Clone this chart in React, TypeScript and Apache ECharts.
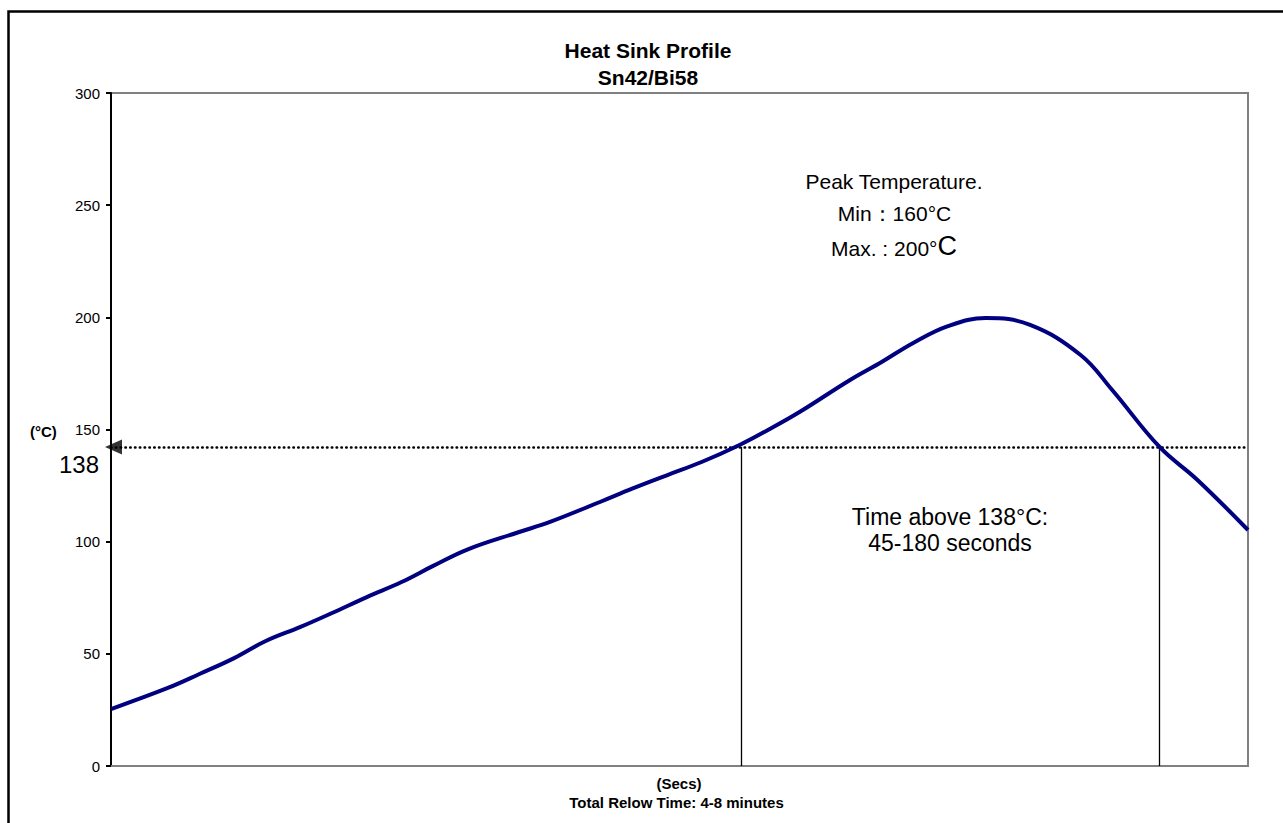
import React, { useEffect, useRef } from "react";
import * as echarts from "echarts";

// Time (s) and temperature (°C)
const timeSecs = [0, 18, 28, 39, 49, 60, 70, 81, 92, 102, 113, 129, 139, 155, 165, 176, 187, 199, 208, 218, 234, 244, 254, 265, 277, 291, 307, 317, 332, 344, 360];
const tempC = [25.4, 34.8, 41.0, 48.1, 55.7, 62.0, 68.2, 75.3, 82.0, 89.2, 96.6, 104.2, 108.8, 117.8, 123.6, 129.6, 135.5, 143.1, 149.8, 157.8, 172.1, 180.1, 188.6, 196.1, 199.7, 196.6, 183.2, 167.6, 142.2, 127.5, 105.2];

const yTicks = [0, 50, 100, 150, 200, 250, 300];
const liquidusLevel = 142.2; // where the dotted 138°C line is drawn
const crossTimes = [199.5, 332];
const timeMax = 360;

const FONT = "'Liberation Sans', Arial, sans-serif";

export default function App() {
  const ref = useRef<HTMLDivElement>(null);
  useEffect(() => {
    document.body.style.margin = "0";
    const chart = echarts.init(ref.current!, null, { renderer: "svg" });
    const option: any = {
      animation: false,
      backgroundColor: "#ffffff",
      textStyle: { fontFamily: FONT },
      grid: {
        left: 111,
        top: 93,
        right: 35,
        bottom: 57,
        show: true,
        borderColor: "#808080",
        borderWidth: 2,
        backgroundColor: "transparent",
      },
      xAxis: {
        type: "value",
        min: 0,
        max: timeMax,
        axisLine: { show: true, lineStyle: { color: "#808080", width: 2 } },
        axisTick: { show: false },
        axisLabel: { show: false },
        splitLine: { show: false },
      },
      yAxis: {
        type: "value",
        min: yTicks[0],
        max: yTicks[yTicks.length - 1],
        interval: 50,
        axisLine: { show: true, lineStyle: { color: "#000000", width: 2 } },
        axisTick: { show: true, inside: false, length: 5, lineStyle: { color: "#000000", width: 2 } },
        axisLabel: { fontSize: 15, color: "#000000", margin: 11, fontFamily: FONT },
        splitLine: { show: false },
      },
      series: [
        {
          type: "line",
          data: timeSecs.map((t, i) => [t, tempC[i]]),
          smooth: 0.4,
          symbol: "none",
          lineStyle: { color: "#000080", width: 4 },
          z: 3,
          markLine: {
            silent: true,
            symbol: ["none", "none"],
            label: { show: false },
            z: 2,
            data: [
              [
                { coord: [0, liquidusLevel], lineStyle: { color: "#000", width: 2.5, type: [0.5, 4.3], cap: "round" } },
                { coord: [timeMax, liquidusLevel] },
              ],
              ...crossTimes.map((t) => [
                { coord: [t, 0], lineStyle: { color: "#000", width: 1.3, type: "solid" } },
                { coord: [t, liquidusLevel] },
              ]),
            ],
          },
        },
        {
          type: "scatter",
          data: [[0, liquidusLevel]],
          symbol: "triangle",
          symbolSize: [15, 17],
          symbolRotate: 90,
          symbolOffset: [2.5, 0],
          itemStyle: { color: "#000" },
          silent: true,
          z: 5,
        },
      ],
      graphic: [
        {
          type: "rect",
          left: 6,
          top: 9,
          shape: { width: 1300, height: 840 },
          style: { fill: "none", stroke: "#000", lineWidth: 2.5 },
          silent: true,
        },
        {
          type: "text",
          x: 648,
          y: 40,
          style: { text: "Heat Sink Profile", font: `bold 21px ${FONT}`, fill: "#000", align: "center", verticalAlign: "top" },
        },
        {
          type: "text",
          x: 648,
          y: 66.5,
          style: { text: "Sn42/Bi58", font: `bold 21px ${FONT}`, fill: "#000", align: "center", verticalAlign: "top" },
        },
        {
          type: "text",
          x: 30,
          y: 431,
          style: { text: "(°C)", font: `bold 15px ${FONT}`, fill: "#000", align: "left", verticalAlign: "middle" },
        },
        {
          type: "text",
          x: 99,
          y: 464,
          style: { text: "138", font: `24px ${FONT}`, fill: "#000", align: "right", verticalAlign: "middle" },
        },
        {
          type: "text",
          x: 894,
          y: 170.5,
          style: { text: "Peak Temperature.", font: `21px ${FONT}`, fill: "#000", align: "center", verticalAlign: "top" },
        },
        {
          type: "text",
          x: 894.5,
          y: 202.5,
          style: { text: "Min：160°C", font: `21px ${FONT}`, fill: "#000", align: "center", verticalAlign: "top" },
        },
        {
          type: "text",
          x: 894,
          y: 259,
          style: {
            text: "{a|Max. : 200°}{b|C}",
            align: "center",
            verticalAlign: "bottom",
            rich: {
              a: { font: `21px ${FONT}`, fill: "#000", lineHeight: 21, verticalAlign: "bottom" },
              b: { font: `27px ${FONT}`, fill: "#000", lineHeight: 27, verticalAlign: "bottom" },
            },
          },
        },
        {
          type: "text",
          x: 950,
          y: 504,
          style: { text: "Time above 138°C:\n45-180 seconds", font: `23px ${FONT}`, fill: "#000", align: "center", verticalAlign: "top", lineHeight: 26 },
        },
        {
          type: "text",
          x: 679,
          y: 775.5,
          style: { text: "(Secs)", font: `bold 15px ${FONT}`, fill: "#000", align: "center", verticalAlign: "top" },
        },
        {
          type: "text",
          x: 676.5,
          y: 795,
          style: { text: "Total Relow Time: 4-8 minutes", font: `bold 15px ${FONT}`, fill: "#000", align: "center", verticalAlign: "top" },
        },
      ],
    };
    chart.setOption(option);
    return () => chart.dispose();
  }, []);
  return <div ref={ref} style={{ width: 1283, height: 823 }} />;
}
